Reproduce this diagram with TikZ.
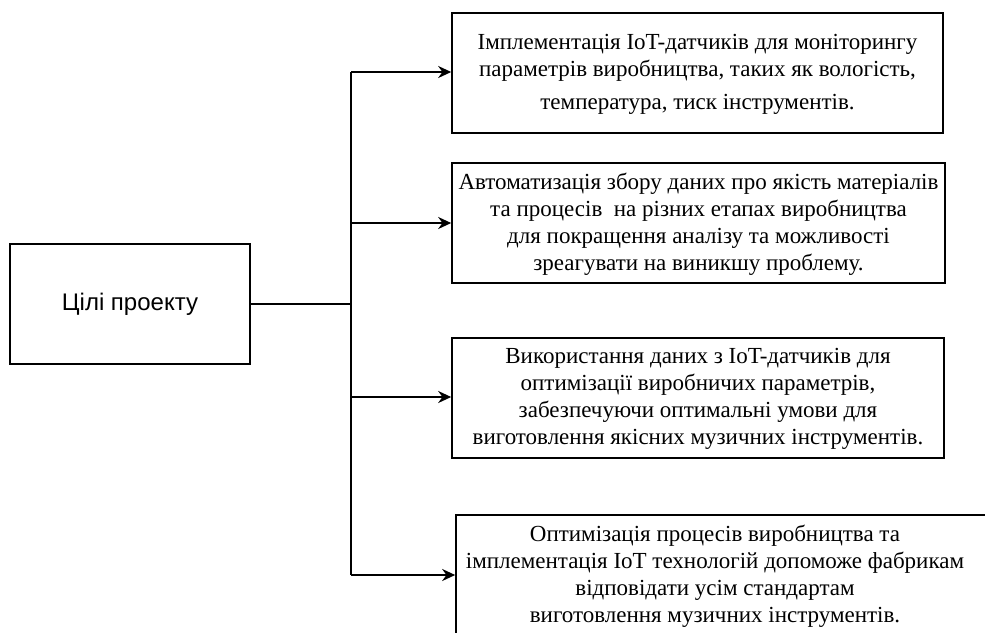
\documentclass[tikz,border=0pt]{standalone}
\usepackage{fontspec}
\setmainfont{Liberation Serif}
\newfontfamily\labelsans{Liberation Sans}
\usetikzlibrary{arrows.meta}
\tikzset{
  goalbox/.style={draw=black, line width=1.6pt, rectangle, inner sep=0pt, fill=white},
  goaltext/.style={align=center, font=\fontsize{23}{27}\selectfont, inner sep=0pt},
  link/.style={line width=2pt, draw=black},
  arrowlink/.style={link, -{Stealth[length=13pt,width=12pt]}}
}
\begin{document}
\begin{tikzpicture}[x=1pt, y=-1pt]
  \useasboundingbox (0,0) rectangle (985,632);
  \clip (0,0) rectangle (985,632);

  % root box
  \node[goalbox, minimum width=240pt, minimum height=120pt] (root) at (130,304)
    {\labelsans\fontsize{24}{28}\selectfont Цілі проекту};

  % goal boxes
  \node[goalbox, minimum width=491pt, minimum height=120pt] (g1) at (697.5,73) {};
  \node[goaltext] (t1) at (697.5,74)
    {Імплементація IoT-датчиків для моніторингу\\
     параметрів виробництва, таких як вологість,\\[6pt]
     температура, тиск інструментів.};

  \node[goalbox, minimum width=493pt, minimum height=120pt] (g2) at (698.5,223) {};
  \node[goaltext] (t2) at (698.5,224)
    {Автоматизація збору даних про якість матеріалів\\
     та процесів \ на різних етапах виробництва\\
     для покращення аналізу та можливості\\
     зреагувати на виникшу проблему.};

  \node[goalbox, minimum width=492pt, minimum height=120pt] (g3) at (698,398) {};
  \node[goaltext] (t3) at (698,399)
    {Використання даних з IoT-датчиків для\\
     оптимізації виробничих параметрів,\\
     забезпечуючи оптимальні умови для\\
     виготовлення якісних музичних інструментів.};

  \node[goalbox, minimum width=560pt, minimum height=124pt] (g4) at (736,577) {};
  \node[goaltext] (t4) at (715,576)
    {Оптимізація процесів виробництва та\\
     імплементація IoT технологій допоможе фабрикам\\
     відповідати усім стандартам\\
     виготовлення музичних інструментів.};

  % connectors
  \coordinate (hub) at (351,304);
  \coordinate (top) at (351,72);
  \coordinate (bot) at (351,575);
  \draw[link] (root.east) -- (hub);
  \draw[link] (top) -- (bot);
  \draw[arrowlink] (top) -- (g1.west |- top);
  \draw[arrowlink] (351,223) coordinate (b2) -- (g2.west |- b2);
  \draw[arrowlink] (351,397) coordinate (b3) -- (g3.west |- b3);
  \draw[arrowlink] (bot) -- (g4.west |- bot);
\end{tikzpicture}
\end{document}
